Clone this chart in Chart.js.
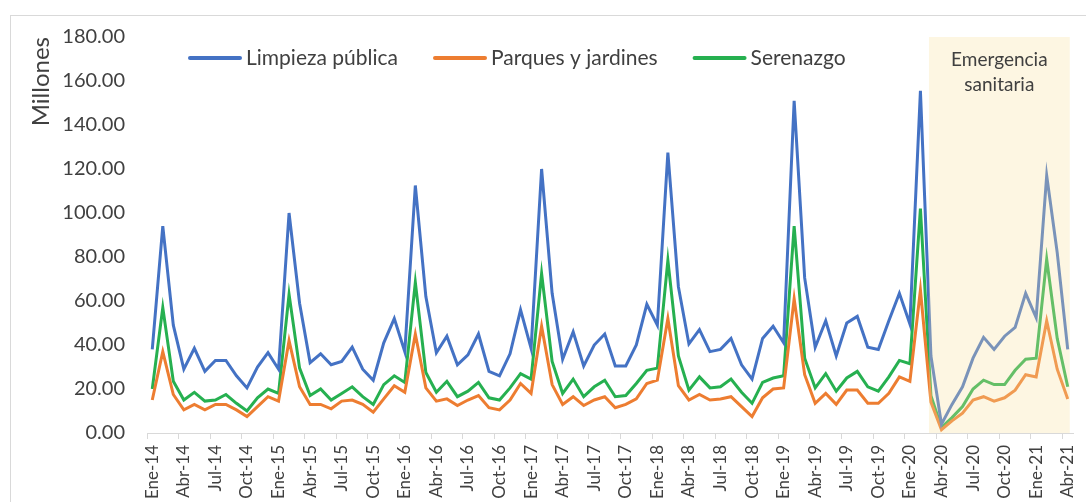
<!DOCTYPE html>
<html>
<head>
<meta charset="utf-8">
<script src="https://cdn.jsdelivr.net/npm/chart.js@4.4.1/dist/chart.umd.min.js"></script>
<style>
  html, body { margin: 0; padding: 0; background: #fff; overflow: hidden; }
  #marco { position: absolute; left: 10px; top: 15px; border-left: 1px solid #d9d9d9; border-top: 1px solid #d9d9d9; }
</style>
</head>
<body>
<div id="marco"><canvas id="grafica" width="1075" height="540"></canvas></div>
<script>
// meses Ene-14 ... Abr-21
const anios = ['14', '15', '16', '17', '18', '19', '20', '21'];
const meses = ['Ene', 'Feb', 'Mar', 'Abr', 'May', 'Jun', 'Jul', 'Ago', 'Set', 'Oct', 'Nov', 'Dic'];
const labels = [];
anios.forEach(a => meses.forEach(m => labels.push(m + '-' + a)));
labels.splice(88);

const inicioEmergencia = 'Mar-20';

// millones de soles
const limpieza = [38, 94, 49, 29, 38.5, 28, 33, 33, 26, 20.5, 30, 36.5,
  29, 100, 59, 32, 36, 31, 32.5, 39, 29, 24, 41, 52,
  37, 112.5, 62, 36.5, 44, 31, 35.5, 45, 28, 26, 36, 56,
  38.5, 120, 63.5, 33.5, 46, 30.5, 40, 45, 30.5, 30.5, 40, 58.5,
  49, 127.5, 66.5, 40.5, 47, 37, 38, 43, 31, 24.5, 43, 48.5,
  41, 151, 70.5, 39, 51, 35, 50, 53, 39, 38, 51, 63.5,
  49.5, 155.5, 35, 4, 13, 21, 34, 43.5, 38, 44, 48, 63.5,
  52.5, 117, 82, 38];
const parques = [15, 37, 17.5, 10.5, 13, 10.5, 13, 13, 10.5, 7.5, 12, 16.5,
  14.5, 42, 21, 13, 13, 11, 14.5, 15, 13, 9.5, 15.5, 21.5,
  18.5, 45, 20.5, 14.5, 15.5, 12.5, 15, 17, 11.5, 10.5, 15, 22.5,
  18, 48.5, 22, 13, 16.5, 12.5, 15, 16.5, 11.5, 13, 15.5, 22.5,
  24, 52, 21.5, 15, 17.5, 15, 15.5, 16.5, 12, 7.5, 16, 20,
  20.5, 61, 26.5, 13.5, 18, 13, 19.5, 19.5, 13.5, 13.5, 18, 25.5,
  23.5, 65, 14, 1.5, 5.5, 9, 15, 16.5, 14.5, 16, 19.5, 26.5,
  25.5, 51, 29, 15.5];
const serenazgo = [20, 57, 23.5, 15, 18.5, 14.5, 15, 17.5, 13.5, 10, 16, 20,
  18, 63, 29.5, 17, 20, 15, 18, 21, 16.5, 13, 22, 26,
  23, 68.5, 27.5, 18.5, 23.5, 16.5, 19, 23, 16, 15, 20.5, 27,
  24.5, 72.5, 32.5, 18, 24.5, 16.5, 21, 24, 16.5, 17, 22.5, 28.5,
  29.5, 78.5, 35, 19.5, 25.5, 20.5, 21, 24.5, 18.5, 13.5, 23, 25,
  26, 94, 34, 20.5, 27, 19, 25, 28, 21, 19, 25.5, 33,
  31.5, 102, 17, 2.5, 7, 12, 20, 24, 22, 22, 28.5, 33.5,
  34, 79, 43, 21];

const yTicks = [0, 180, 20];

Chart.defaults.font.family = 'Lato';
Chart.defaults.color = '#404040';

// franja "Emergencia sanitaria"
const emergencia = {
  id: 'emergencia',
  afterDatasetsDraw(chart) {
    const {ctx, scales: {x, y}} = chart;
    const x0 = x.getPixelForValue(labels.indexOf(inicioEmergencia)) - 2;
    const x1 = x.getPixelForValue(labels.length - 1) + 2;
    const y0 = y.getPixelForValue(yTicks[1]);
    const y1 = y.getPixelForValue(yTicks[0]);
    ctx.save();
    ctx.fillStyle = 'rgba(250, 225, 160, 0.3)';
    ctx.fillRect(x0, y0, x1 - x0, y1 - y0);
    ctx.fillStyle = '#404040';
    ctx.font = '19px Lato';
    ctx.textAlign = 'center';
    ctx.textBaseline = 'middle';
    ctx.fillText('Emergencia', (x0 + x1) / 2, y0 + 23);
    ctx.fillText('sanitaria', (x0 + x1) / 2, y0 + 48);
    ctx.restore();
  }
};

// leyenda dentro del area del grafico
const leyenda = {
  id: 'leyenda',
  afterDraw(chart) {
    const {ctx, chartArea} = chart;
    ctx.save();
    ctx.font = '21px Lato';
    ctx.textBaseline = 'middle';
    let xPos = chartArea.left + 43;
    const yPos = chartArea.top + 21;
    chart.data.datasets.forEach(ds => {
      ctx.strokeStyle = ds.borderColor;
      ctx.lineWidth = 4;
      ctx.lineCap = 'round';
      ctx.beginPath();
      ctx.moveTo(xPos, yPos);
      ctx.lineTo(xPos + 50, yPos);
      ctx.stroke();
      ctx.fillStyle = '#404040';
      ctx.fillText(ds.label, xPos + 56, yPos);
      xPos += 56 + ctx.measureText(ds.label).width + 37;
    });
    ctx.restore();
  }
};

const graph = document.querySelector('#grafica');

const data = {
  labels: labels,
  datasets: [
    { label: 'Limpieza pública', data: limpieza, borderColor: '#4472C4', backgroundColor: '#4472C4' },
    { label: 'Parques y jardines', data: parques, borderColor: '#ED7D31', backgroundColor: '#ED7D31' },
    { label: 'Serenazgo', data: serenazgo, borderColor: '#26B050', backgroundColor: '#26B050' }
  ]
};

const config = {
  type: 'line',
  data: data,
  options: {
    responsive: false,
    animation: false,
    layout: { padding: { left: 14, right: 13, top: 21, bottom: 0 } },
    elements: {
      line: { borderWidth: 3, tension: 0 },
      point: { radius: 0 }
    },
    plugins: {
      legend: { display: false },
      tooltip: { enabled: false }
    },
    scales: {
      x: {
        offset: true,
        grid: {
          offset: true,
          drawOnChartArea: false,
          tickLength: 6,
          color: c => c.index % 3 === 0 ? '#d9d9d9' : 'rgba(0,0,0,0)'
        },
        border: { color: '#d9d9d9' },
        ticks: {
          autoSkip: false,
          maxRotation: 90,
          minRotation: 90,
          padding: 6,
          font: { size: 17 },
          callback: function (v, i) { return i % 3 === 0 ? this.getLabelForValue(v) : ''; }
        },
        afterFit: s => { s.height = 123; s.paddingLeft = 0; s.paddingRight = 0; }
      },
      y: {
        min: yTicks[0],
        max: yTicks[1],
        ticks: {
          stepSize: yTicks[2],
          padding: 22,
          font: { size: 20 },
          callback: v => v.toFixed(2)
        },
        grid: { display: false, drawTicks: false },
        border: { display: false },
        title: {
          display: true,
          text: 'Millones',
          align: 'end',
          font: { size: 24 },
          padding: { top: 2, bottom: 0 }
        },
        afterFit: s => { s.width = 122; s.paddingTop = 0; }
      }
    }
  },
  plugins: [emergencia, leyenda]
};

new Chart(graph, config);
</script>
</body>
</html>
